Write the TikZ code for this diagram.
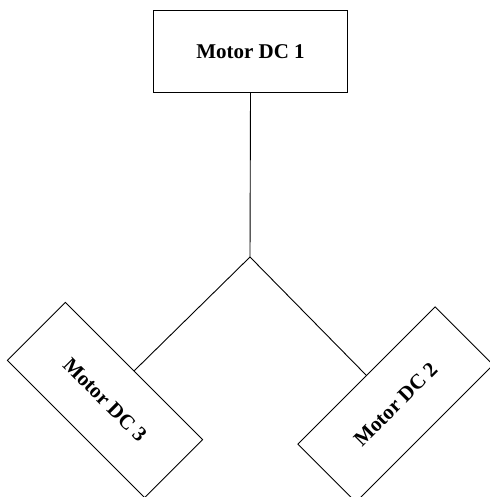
\documentclass[tikz,border=0pt]{standalone}
\usepackage{fontspec}
\setmainfont{Liberation Serif}
\begin{document}
\begin{tikzpicture}[x=1pt,y=1pt,
  motorbox/.style={draw=black, line width=0.9pt, minimum width=194pt, minimum height=82pt,
    inner sep=0pt, font=\fontsize{21}{25}\selectfont\bfseries},
  wire/.style={draw=black, line width=0.9pt}]
\useasboundingbox (0,0) rectangle (489,497);
\node[motorbox] (m1) at (250.5,445.5) {Motor DC 1};
\node[motorbox, rotate=-45] (m3) at (105,97) {Motor DC 3};
\node[motorbox, rotate=45] (m2) at (395.5,92.5) {Motor DC 2};
\coordinate (j) at (250,240);
\draw[wire] (m1.south) -- (j);
\draw[wire] (j) -- (m3.north);
\draw[wire] (j) -- (m2.north);
\end{tikzpicture}
\end{document}
